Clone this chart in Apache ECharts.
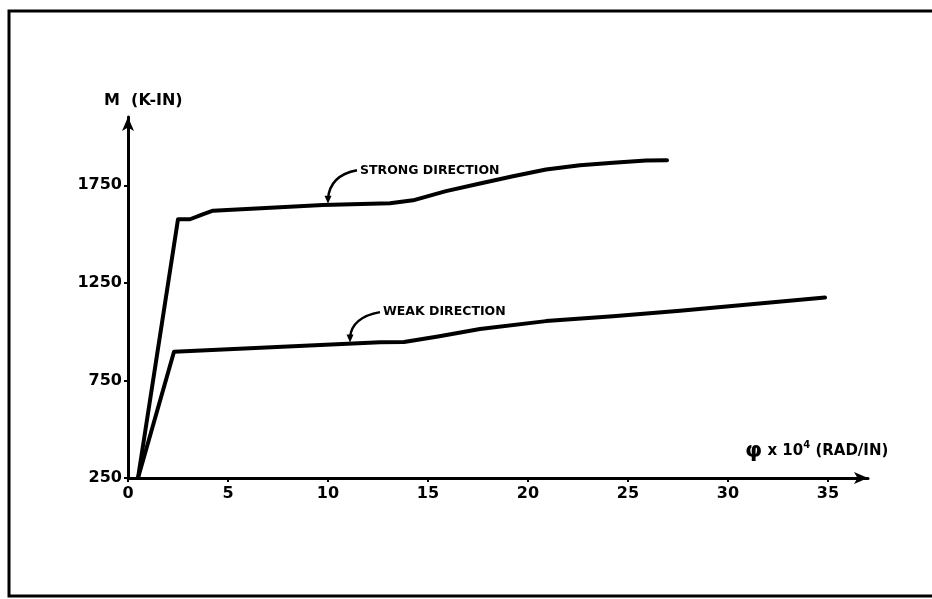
<!DOCTYPE html>
<html>
<head>
<meta charset="utf-8">
<script src="https://cdn.jsdelivr.net/npm/echarts@6/dist/echarts.min.js"></script>
<style>
html,body{margin:0;padding:0;background:#fff;}
#chart{width:932px;height:599px;}
</style>
</head>
<body>
<div id="chart"></div>
<script>
// ---- data ----
const strongX = [0.5, 2.5, 3.1, 3.7, 4.25, 9.75, 13.1, 14.25, 15.9, 17.6, 19.25, 20.9, 22.6, 24.25, 25.9, 26.95];
const strongY = [250, 1576, 1576, 1600, 1620, 1649, 1658, 1673, 1720, 1759, 1796, 1831, 1853, 1866, 1877, 1878];
const weakX = [0.5, 2.3, 12.6, 13.8, 15.5, 17.6, 20.9, 24.25, 27.6, 34.85];
const weakY = [250, 897, 946, 947, 975, 1014, 1054, 1079, 1107, 1175];
const xTicks = [0, 5, 10, 15, 20, 25, 30, 35];
const yTicks = [250, 750, 1250, 1750];
const strongLabel = 'STRONG DIRECTION';
const weakLabel = 'WEAK DIRECTION';
const yTitle = 'M  (K-IN)';

const FONT = '"DejaVu Sans", sans-serif';
const chart = echarts.init(document.getElementById('chart'), null, {renderer: 'canvas'});

const option = {
  backgroundColor: '#fff',
  animation: false,
  grid: {left: 128, right: 64, top: 117, bottom: 121},
  xAxis: {
    type: 'value', min: 0, max: 37,
    axisLine: {show: true, symbol: ['none', 'arrow'], symbolSize: [9, 14], lineStyle: {color: '#000', width: 3}},
    axisTick: {show: true, length: 4, lineStyle: {color: '#000', width: 2}, customValues: xTicks},
    axisLabel: {customValues: xTicks, formatter: v => String(v), color: '#000', fontFamily: FONT, fontWeight: 'bold', fontSize: 16, margin: 8},
    splitLine: {show: false}
  },
  yAxis: {
    type: 'value', min: 250, max: 2100,
    name: yTitle, nameLocation: 'end', nameGap: 8,
    nameTextStyle: {color: '#000', fontFamily: FONT, fontWeight: 'bold', fontSize: 16, align: 'left', padding: [0, 0, 0, -24]},
    axisLine: {show: true, symbol: ['none', 'arrow'], symbolSize: [9, 14], lineStyle: {color: '#000', width: 3}},
    axisTick: {show: true, length: 4, lineStyle: {color: '#000', width: 2}, customValues: yTicks},
    axisLabel: {customValues: yTicks, formatter: v => String(v), color: '#000', fontFamily: FONT, fontWeight: 'bold', fontSize: 16, margin: 6},
    splitLine: {show: false}
  },
  series: [
    {name: 'Strong direction', type: 'line', data: strongX.map((x, i) => [x, strongY[i]]),
     showSymbol: false, smooth: false, lineStyle: {color: '#000', width: 4, join: 'round', cap: 'round'}, z: 3},
    {name: 'Weak direction', type: 'line', data: weakX.map((x, i) => [x, weakY[i]]),
     showSymbol: false, smooth: false, lineStyle: {color: '#000', width: 4, join: 'round', cap: 'round'}, z: 3}
  ]
};
chart.setOption(option);

// annotation leaders anchored in data space
function leader(tipData, textData, label) {
  const tip = chart.convertToPixel({gridIndex: 0}, tipData);
  const txt = chart.convertToPixel({gridIndex: 0}, textData);
  const cp = [tip[0] + 2, txt[1] + 5];
  return [
    {type: 'bezierCurve', shape: {x1: txt[0] - 3, y1: txt[1], x2: tip[0], y2: tip[1] - 5, cpx1: cp[0], cpy1: cp[1]},
     style: {stroke: '#000', lineWidth: 2.5, fill: null}, z: 10},
    {type: 'polygon', shape: {points: [[tip[0] - 3.5, tip[1] - 8], [tip[0] + 3.5, tip[1] - 8], [tip[0], tip[1]]]},
     style: {fill: '#000'}, z: 10},
    {type: 'text', x: txt[0], y: txt[1],
     style: {text: label, fill: '#000', font: 'bold 12.5px "DejaVu Sans", sans-serif', textVerticalAlign: 'middle', textAlign: 'left'}, z: 10}
  ];
}

const graphics = [
  {type: 'rect', shape: {x: 9, y: 11, width: 940, height: 585}, style: {stroke: '#000', lineWidth: 3, fill: null}, z: 0, silent: true},
  {type: 'text', left: 745, top: 440,
   style: {rich: {
      p: {font: 'bold 22px "DejaVu Sans", sans-serif', fill: '#000'},
      t: {font: 'bold 15px "DejaVu Sans", sans-serif', fill: '#000'},
      s: {font: 'bold 10px "DejaVu Sans", sans-serif', fill: '#000', verticalAlign: 'top', padding: [0, 0, 8, 0]}
    }, text: '{p|φ}{t| x 10}{s|4}{t| (RAD/IN)}'}, z: 10}
].concat(leader([10.0, 1655], [11.6, 1827], strongLabel))
 .concat(leader([11.1, 945], [12.75, 1100], weakLabel));

chart.setOption({graphic: graphics});
</script>
</body>
</html>
